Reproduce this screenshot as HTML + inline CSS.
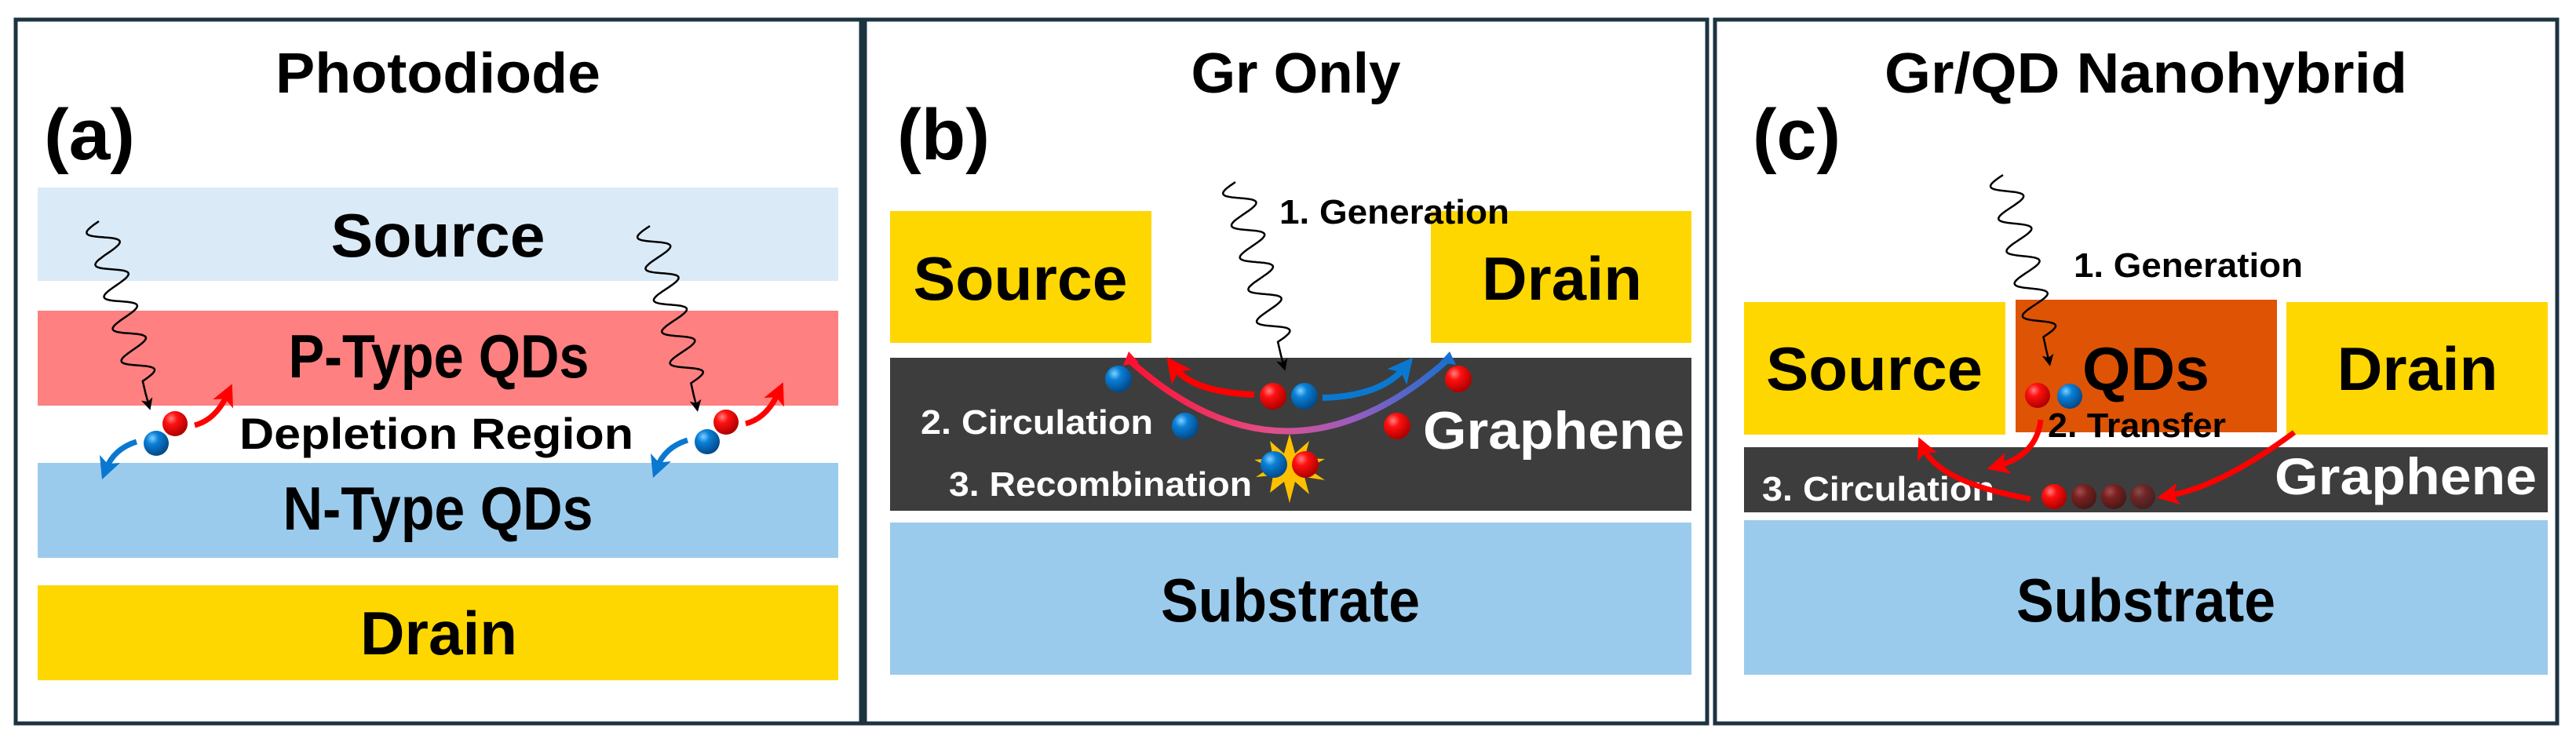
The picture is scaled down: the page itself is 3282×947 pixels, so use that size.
<!DOCTYPE html>
<html><head><meta charset="utf-8"><style>
html,body{margin:0;padding:0;background:#fff;}
svg{display:block;}
text{font-family:"Liberation Sans",sans-serif;font-weight:bold;}
</style></head><body>
<svg id="s" width="3282" height="947" viewBox="0 0 3282 947" xmlns="http://www.w3.org/2000/svg">
<defs>
<radialGradient id="rb" cx="35%" cy="30%" r="70%"><stop offset="0" stop-color="#ff8080"/><stop offset="0.35" stop-color="#ff1010"/><stop offset="1" stop-color="#b00000"/></radialGradient>
<radialGradient id="bb" cx="35%" cy="30%" r="70%"><stop offset="0" stop-color="#7fd0ff"/><stop offset="0.35" stop-color="#0a80d8"/><stop offset="1" stop-color="#034a8a"/></radialGradient>
<radialGradient id="db" cx="35%" cy="30%" r="70%"><stop offset="0" stop-color="#a05050"/><stop offset="0.4" stop-color="#7a2020"/><stop offset="1" stop-color="#4a1818"/></radialGradient>
<linearGradient id="arc" x1="0" x2="1" y1="0" y2="0"><stop offset="0" stop-color="#ff1030"/><stop offset="0.45" stop-color="#e0508a"/><stop offset="0.7" stop-color="#9a5cc0"/><stop offset="1" stop-color="#1a70d0"/></linearGradient>
<marker id="mk" markerWidth="6" markerHeight="6" refX="4" refY="3" orient="auto" markerUnits="strokeWidth"><path d="M0,0 L6,3 L0,6 L1.5,3z" fill="#000"/></marker>
<marker id="mr" markerWidth="4" markerHeight="4" refX="2" refY="2" orient="auto" markerUnits="strokeWidth"><path d="M0,0 L4,2 L0,4 L1,2z" fill="#f00"/></marker>
<marker id="mb" markerWidth="4" markerHeight="4" refX="2" refY="2" orient="auto" markerUnits="strokeWidth"><path d="M0,0 L4,2 L0,4 L1,2z" fill="#0a78d0"/></marker>
</defs>

<rect x="20" y="25" width="1077" height="897" fill="none" stroke="#1c3340" stroke-width="5"/>
<rect x="1102" y="25" width="1073" height="897" fill="none" stroke="#1c3340" stroke-width="5"/>
<rect x="2185" y="25" width="1073" height="897" fill="none" stroke="#1c3340" stroke-width="5"/>

<!-- Panel A -->
<text x="558" y="118" font-size="72" text-anchor="middle" textLength="414" lengthAdjust="spacingAndGlyphs">Photodiode</text>
<text x="56" y="203" font-size="92" textLength="116" lengthAdjust="spacingAndGlyphs">(a)</text>
<rect x="48" y="239" width="1020" height="119" fill="#dbeaf7"/>
<rect x="48" y="396" width="1020" height="121" fill="#fe8080"/>
<rect x="48" y="590" width="1020" height="121" fill="#9bcbec"/>
<rect x="48" y="746" width="1020" height="121" fill="#ffd700"/>
<text x="558" y="327" font-size="78" text-anchor="middle" textLength="273" lengthAdjust="spacingAndGlyphs">Source</text>
<text x="559" y="481" font-size="78" text-anchor="middle" textLength="383" lengthAdjust="spacingAndGlyphs">P-Type QDs</text>
<text x="556" y="572" font-size="56" text-anchor="middle" textLength="502" lengthAdjust="spacingAndGlyphs">Depletion Region</text>
<text x="558" y="675" font-size="78" text-anchor="middle" textLength="395" lengthAdjust="spacingAndGlyphs">N-Type QDs</text>
<text x="559" y="834" font-size="78" text-anchor="middle" textLength="200" lengthAdjust="spacingAndGlyphs">Drain</text>
<g id="pa">
<path d="M248,542 Q275,535 290,502" fill="none" stroke="#f00" stroke-width="7" marker-end="url(#mr)"/>
<path d="M174,563 Q145,572 135,598" fill="none" stroke="#0a78d0" stroke-width="7" marker-end="url(#mb)"/>
<circle cx="223" cy="540" r="16" fill="url(#rb)"/>
<circle cx="199" cy="565" r="16" fill="url(#bb)"/>
</g>
<use href="#pa" x="702" y="-2"/>

<!-- Panel B -->
<text x="1651" y="118" font-size="72" text-anchor="middle" textLength="267" lengthAdjust="spacingAndGlyphs">Gr Only</text>
<text x="1143" y="203" font-size="92" textLength="118" lengthAdjust="spacingAndGlyphs">(b)</text>
<rect x="1134" y="269" width="333" height="168" fill="#ffd700"/>
<rect x="1823" y="269" width="332" height="168" fill="#ffd700"/>
<rect x="1134" y="456" width="1021" height="195" fill="#3d3d3d"/>
<rect x="1134" y="666" width="1021" height="194" fill="#9bcbec"/>
<text x="1300" y="382" font-size="78" text-anchor="middle" textLength="273" lengthAdjust="spacingAndGlyphs">Source</text>
<text x="1990" y="382" font-size="78" text-anchor="middle" textLength="204" lengthAdjust="spacingAndGlyphs">Drain</text>
<text x="1644" y="792" font-size="78" text-anchor="middle" textLength="330" lengthAdjust="spacingAndGlyphs">Substrate</text>
<text x="1630" y="285" font-size="44" textLength="293" lengthAdjust="spacingAndGlyphs">1. Generation</text>
<text x="1173" y="553" font-size="44" fill="#fff" textLength="296" lengthAdjust="spacingAndGlyphs">2. Circulation</text>
<text x="1209" y="632" font-size="44" fill="#fff" textLength="386" lengthAdjust="spacingAndGlyphs">3. Recombination</text>
<text x="1813" y="572" font-size="68" fill="#fff" textLength="333" lengthAdjust="spacingAndGlyphs">Graphene</text>
<path d="M1440,460 Q1640,640 1845,458" fill="none" stroke="url(#arc)" stroke-width="8"/>
<path d="M1431,466 L1438,448 L1451,462z" fill="#ff1030"/>
<path d="M1834,462 L1847,448 L1855,465z" fill="#1a70d0"/>
<path d="M1598,503 Q1520,500 1496,468" fill="none" stroke="#f00" stroke-width="8" marker-end="url(#mr)"/>
<path d="M1685,507 Q1760,505 1790,468" fill="none" stroke="#0a78d0" stroke-width="8" marker-end="url(#mb)"/>
<polygon points="1643,553 1650,578 1668,562 1662,584 1688,585 1666,597 1688,612 1662,608 1668,630 1650,614 1643,641 1636,614 1618,628 1622,606 1600,608 1618,596 1598,586 1622,584 1618,562 1636,578" fill="#ffc000"/>
<circle cx="1425" cy="483" r="17" fill="url(#bb)"/>
<circle cx="1622" cy="505" r="17" fill="url(#rb)"/>
<circle cx="1662" cy="505" r="17" fill="url(#bb)"/>
<circle cx="1858" cy="483" r="17" fill="url(#rb)"/>
<circle cx="1510" cy="543" r="17" fill="url(#bb)"/>
<circle cx="1780" cy="543" r="17" fill="url(#rb)"/>
<circle cx="1623" cy="592" r="17" fill="url(#bb)"/>
<circle cx="1663" cy="592" r="17" fill="url(#rb)"/>

<!-- Panel C -->
<text x="2734" y="118" font-size="72" text-anchor="middle" textLength="666" lengthAdjust="spacingAndGlyphs">Gr/QD Nanohybrid</text>
<text x="2233" y="203" font-size="92" textLength="112" lengthAdjust="spacingAndGlyphs">(c)</text>
<rect x="2222" y="385" width="333" height="169" fill="#ffd700"/>
<rect x="2568" y="382" width="333" height="169" fill="#df5305"/>
<rect x="2913" y="385" width="333" height="169" fill="#ffd700"/>
<rect x="2222" y="570" width="1024" height="83" fill="#3d3d3d"/>
<rect x="2222" y="663" width="1024" height="197" fill="#9bcbec"/>
<text x="2388" y="497" font-size="78" text-anchor="middle" textLength="276" lengthAdjust="spacingAndGlyphs">Source</text>
<text x="2734" y="497" font-size="78" text-anchor="middle" textLength="162" lengthAdjust="spacingAndGlyphs">QDs</text>
<text x="3080" y="497" font-size="78" text-anchor="middle" textLength="205" lengthAdjust="spacingAndGlyphs">Drain</text>
<text x="2734" y="792" font-size="78" text-anchor="middle" textLength="330" lengthAdjust="spacingAndGlyphs">Substrate</text>
<text x="2642" y="353" font-size="44" textLength="292" lengthAdjust="spacingAndGlyphs">1. Generation</text>
<text x="2609" y="557" font-size="44" textLength="227" lengthAdjust="spacingAndGlyphs">2. Transfer</text>
<text x="2898" y="630" font-size="66" fill="#fff" textLength="334" lengthAdjust="spacingAndGlyphs">Graphene</text>
<text x="2245" y="638" font-size="44" fill="#fff" textLength="296" lengthAdjust="spacingAndGlyphs">3. Circulation</text>
<path d="M2600,535 Q2595,580 2545,594" fill="none" stroke="#f00" stroke-width="7" marker-end="url(#mr)"/>
<path d="M2587,636 Q2470,615 2450,570" fill="none" stroke="#f00" stroke-width="7" marker-end="url(#mr)"/>
<path d="M2923,551 Q2830,620 2762,632" fill="none" stroke="#f00" stroke-width="7" marker-end="url(#mr)"/>
<circle cx="2596" cy="504" r="16" fill="url(#rb)"/>
<circle cx="2637" cy="505" r="16" fill="url(#bb)"/>
<circle cx="2730" cy="633" r="16" fill="url(#db)" opacity="0.8"/>
<circle cx="2693" cy="633" r="16" fill="url(#db)"/>
<circle cx="2655" cy="633" r="16" fill="url(#db)"/>
<circle cx="2617" cy="633" r="16" fill="url(#rb)"/>

<g id="waves" fill="none" stroke="#000" stroke-width="2.5"></g>
</svg>
<script>
function wave(x1,y1,x2,y2,n,a){
  var dx=x2-x1,dy=y2-y1,L=Math.hypot(dx,dy),ux=dx/L,uy=dy/L,px=-uy,py=ux;
  var d="M"+x1+","+y1, N=240;
  for(var i=1;i<=N;i++){var t=i/N, s=t*L*0.93, w=(t<0.93)?a*Math.sin(t/0.93*n*2*Math.PI):0;
    if(t>=0.93) s=t*L;
    d+=" L"+(x1+ux*s+px*w).toFixed(1)+","+(y1+uy*s+py*w).toFixed(1);}
  var p=document.createElementNS("http://www.w3.org/2000/svg","path");
  p.setAttribute("d",d);p.setAttribute("marker-end","url(#mk)");
  document.getElementById("waves").appendChild(p);
}
wave(126,282,190,518,5,19);
wave(828,288,888,520,5,19);
wave(1574,232,1636,468,5,19);
wave(2552,223,2611,462,5,19);
</script>
</body></html>
